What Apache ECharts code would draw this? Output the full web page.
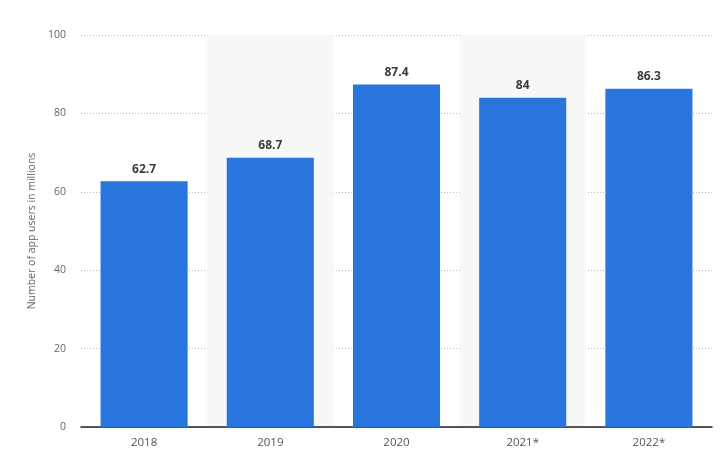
<!DOCTYPE html>
<html>
<head>
<meta charset="utf-8">
<script src="https://cdn.jsdelivr.net/npm/echarts@6/dist/echarts.min.js"></script>
<style>
  html, body { margin: 0; padding: 0; background: #fff; }
  #chart { width: 728px; height: 470px; }
</style>
</head>
<body>
<div id="chart"></div>
<script type="text/javascript">
    var years = ['2018', '2019', '2020', '2021*', '2022*'];
    var users = [62.7, 68.7, 87.4, 84, 86.3];
    var yTicks = [0, 20, 40, 60, 80, 100];

    var chart = echarts.init(document.getElementById('chart'));

    var option = {
        animation: false,
        grid: {
            left: 81,
            right: 16,
            top: 35,
            bottom: 43
        },
        xAxis: {
            type: 'category',
            data: years,
            axisTick: { show: false },
            axisLine: { lineStyle: { color: '#222', width: 1.5 } },
            axisLabel: {
                color: '#555',
                fontFamily: 'Open Sans',
                fontSize: 11.5,
                margin: 10
            },
            splitArea: {
                show: true,
                areaStyle: { color: ['rgba(0,0,0,0)', '#f8f8f8'] }
            }
        },
        yAxis: {
            type: 'value',
            min: yTicks[0],
            max: yTicks[yTicks.length - 1],
            interval: 20,
            name: 'Number of app users in millions',
            nameLocation: 'middle',
            nameGap: 43,
            nameTextStyle: {
                color: '#666',
                fontFamily: 'Open Sans',
                fontSize: 10.5
            },
            axisLine: { show: false },
            axisTick: { show: false },
            axisLabel: {
                color: '#666',
                fontFamily: 'Open Sans',
                fontSize: 10.5,
                margin: 15
            },
            splitLine: {
                lineStyle: { color: '#bbb', type: [1, 2], width: 1 }
            }
        },
        series: [
            {
                type: 'bar',
                data: users,
                barWidth: '69%',
                itemStyle: { color: '#2876dd' },
                label: {
                    show: true,
                    position: 'top',
                    distance: 6,
                    color: '#3c3c3c',
                    fontFamily: 'Open Sans',
                    fontWeight: 'bold',
                    fontSize: 12
                }
            }
        ]
    };

    chart.setOption(option);
</script>
</body>
</html>
